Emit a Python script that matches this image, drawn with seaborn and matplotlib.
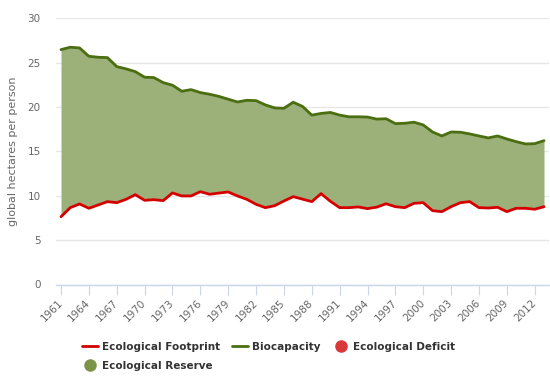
import matplotlib
matplotlib.use("Agg")
import matplotlib.pyplot as plt
from matplotlib.lines import Line2D
import seaborn as sns
import pandas as pd

years = list(range(1961, 2014))
footprint = [7.64, 8.66, 9.08, 8.59, 8.96, 9.34, 9.22, 9.60, 10.12, 9.49,
             9.56, 9.45, 10.32, 9.98, 9.98, 10.46, 10.17, 10.30, 10.43, 9.98,
             9.60, 9.04, 8.66, 8.88, 9.41, 9.90, 9.62, 9.34, 10.24, 9.38,
             8.66, 8.66, 8.74, 8.55, 8.72, 9.10, 8.77, 8.66, 9.15, 9.22,
             8.32, 8.21, 8.77, 9.22, 9.34, 8.66, 8.62, 8.70, 8.21, 8.59,
             8.59, 8.48, 8.77]
biocapacity = [26.47, 26.74, 26.66, 25.72, 25.61, 25.57, 24.56, 24.30, 23.99, 23.36,
               23.32, 22.75, 22.46, 21.78, 21.96, 21.63, 21.44, 21.20, 20.88, 20.57,
               20.76, 20.72, 20.24, 19.90, 19.86, 20.54, 20.07, 19.09, 19.28, 19.39,
               19.09, 18.90, 18.90, 18.87, 18.64, 18.68, 18.13, 18.17, 18.29, 17.98,
               17.19, 16.74, 17.19, 17.16, 16.97, 16.74, 16.52, 16.74, 16.40, 16.10,
               15.84, 15.87, 16.21]
xtick_years = list(range(1961, 2013, 3))
ytick_values = [0, 5, 10, 15, 20, 25, 30]
series_names = ["Ecological Footprint", "Biocapacity", "Ecological Deficit", "Ecological Reserve"]
y_label = "global hectares per person"

df = pd.DataFrame({"year": years, "footprint": footprint, "biocapacity": biocapacity})

sns.set_style("white")
plt.rcParams["font.family"] = ["DejaVu Sans"]

RED = "#d40000"
GREEN_LINE = "#4a6e10"
FILL = "#9cb07a"
DEF_DOT = "#d9383a"
RES_DOT = "#7b9448"
GRID = "#e6e6e6"
AXIS = "#ccd6eb"
TXT = "#666666"

fig = plt.figure(figsize=(5.5, 3.81), dpi=100)
ax = fig.add_axes([56 / 550, 1 - 284.5 / 381, 493 / 550, (284.5 - 18.3) / 381])

ax.fill_between(df["year"], df["footprint"], df["biocapacity"],
                where=df["biocapacity"] >= df["footprint"], color=FILL, lw=0, zorder=1)
ax.fill_between(df["year"], df["footprint"], df["biocapacity"],
                where=df["biocapacity"] < df["footprint"], color=DEF_DOT, lw=0, zorder=1)
sns.lineplot(data=df, x="year", y="biocapacity", ax=ax, color=GREEN_LINE, lw=2, zorder=3)
sns.lineplot(data=df, x="year", y="footprint", ax=ax, color=RED, lw=2, zorder=3)

px = (2013 - 1961) / (544 - 61)
ax.set_xlim(1961 - 5 * px, 2013 + 5 * px)
ax.set_ylim(0, 30)
ax.set_yticks(ytick_values)
ax.set_yticklabels([str(v) for v in ytick_values])
ax.set_xticks(xtick_years)
ax.set_xticklabels([str(v) for v in xtick_years], rotation=45, ha="right",
                   rotation_mode="anchor", va="center")
ax.grid(axis="y", color=GRID, lw=1, zorder=0)
ax.grid(axis="x", visible=False)
ax.set_axisbelow(True)
for s in ["top", "right", "left"]:
    ax.spines[s].set_visible(False)
ax.spines["bottom"].set_color(AXIS)
ax.spines["bottom"].set_linewidth(1)
ax.spines["bottom"].set_zorder(4)
ax.tick_params(axis="x", length=7, width=0.8, color=AXIS, labelsize=7.5,
               labelcolor=TXT, pad=5, bottom=True)
ax.tick_params(axis="y", length=0, labelsize=7.5, labelcolor=TXT, pad=11)
ax.set_xlabel("")
ax.set_ylabel(y_label, fontsize=8, color=TXT, labelpad=7)

handles = [
    Line2D([0], [0], color=RED, lw=2),
    Line2D([0], [0], color=RES_DOT, marker="o", ms=8, ls="none"),
    Line2D([0], [0], color=GREEN_LINE, lw=2),
    Line2D([0], [0], color=DEF_DOT, marker="o", ms=8, ls="none"),
]
labels = [series_names[0], series_names[3], series_names[1], series_names[2]]
leg = fig.legend(handles, labels, loc="upper left", bbox_to_anchor=(82 / 550, 1 - 342 / 381),
                 ncol=3, frameon=False, borderpad=0, borderaxespad=0,
                 handlelength=1.5, handletextpad=0.4, columnspacing=1.2,
                 labelspacing=0.85, prop={"weight": "bold", "size": 7.5})
for t in leg.get_texts():
    t.set_color("#333333")

fig.savefig("out.png", dpi=100)
